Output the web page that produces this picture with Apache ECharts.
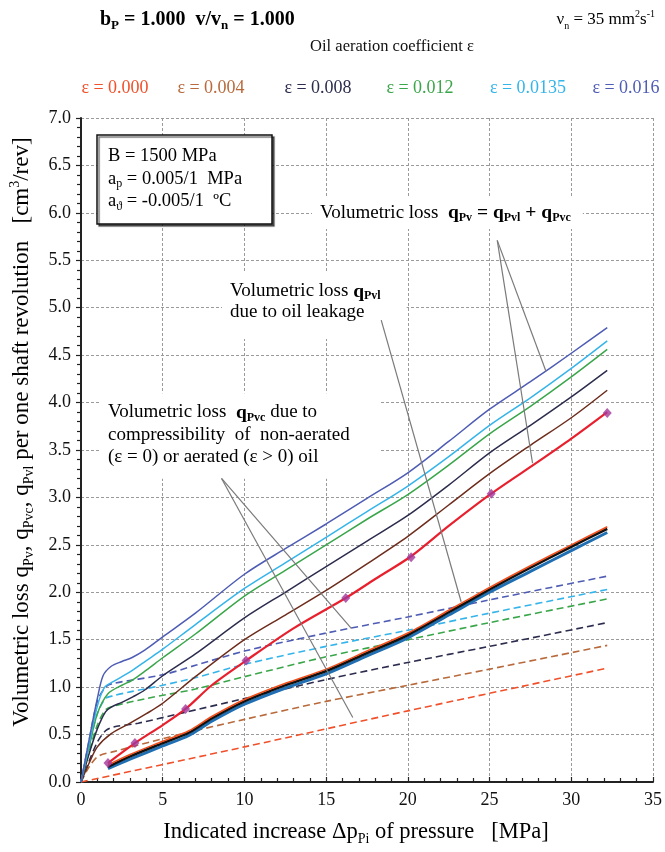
<!DOCTYPE html>
<html><head><meta charset="utf-8">
<script src="https://cdn.jsdelivr.net/npm/echarts@6/dist/echarts.min.js"></script>
<style>html,body{margin:0;padding:0;background:#fff}#c{width:665px;height:852px}</style>
</head><body><div id="c"></div>
<script>
// ---------- data ----------
const xTickValues = [0, 5, 10, 15, 20, 25, 30, 35];
const epsLabels = ['ε = 0.000', 'ε = 0.004', 'ε = 0.008', 'ε = 0.012', 'ε = 0.0135', 'ε = 0.016'];

// total volumetric loss q_Pv (solid)
const tot016 = [[0,0],[0.5,0.45],[1,0.88],[1.35,1.12],[1.85,1.22],[2.5,1.27],[3.1,1.31],[3.9,1.39],[5,1.53],[7,1.78],[10,2.19],[12.5,2.46],[15,2.72],[17.5,2.99],[20,3.26],[22.5,3.59],[25,3.93],[27.5,4.22],[30,4.52],[32.2,4.79]];
const tot0135 = [[0,0],[0.5,0.4],[1,0.8],[1.45,1.0],[2,1.06],[3,1.16],[4,1.28],[5,1.4],[7,1.66],[10,2.04],[12.5,2.31],[15,2.58],[17.5,2.85],[20,3.12],[22.5,3.43],[25,3.76],[27.5,4.05],[30,4.36],[32.2,4.65]];
const tot012 = [[0,0],[0.5,0.37],[1,0.72],[1.65,0.93],[2.5,1.02],[3.1,1.07],[4,1.18],[5,1.31],[7,1.56],[10,1.96],[12.5,2.23],[15,2.5],[17.5,2.77],[20,3.03],[22.5,3.34],[25,3.67],[27.5,3.96],[30,4.27],[32.2,4.56]];
const tot008 = [[0,0],[0.5,0.3],[1,0.56],[1.5,0.74],[1.85,0.79],[2.5,0.84],[3.2,0.9],[3.9,0.97],[5,1.12],[7,1.35],[10,1.73],[12.5,2.0],[15,2.27],[17.5,2.54],[20,2.81],[22.5,3.13],[25,3.47],[27.5,3.76],[30,4.06],[32.2,4.34]];
const tot004 = [[0,0],[0.5,0.2],[1,0.37],[1.85,0.51],[3,0.62],[4,0.72],[5,0.83],[7,1.11],[10,1.5],[12.5,1.76],[15,2.02],[17.5,2.3],[20,2.59],[22.5,2.92],[25,3.25],[27.5,3.55],[30,3.84],[32.2,4.13]];
const tot000 = [[1.65,0.2],[3.3,0.41],[5,0.6],[6.4,0.77],[8,1.02],[10.1,1.28],[13,1.62],[16.2,1.94],[18,2.14],[20.2,2.38],[22.5,2.7],[25.1,3.04],[28,3.38],[30,3.62],[32.2,3.9]];
const diamonds000 = [[1.65,0.2],[3.3,0.41],[6.4,0.77],[10.1,1.28],[16.2,1.94],[20.2,2.37],[25.1,3.04],[32.2,3.89]];

// leakage loss q_Pvl (bundle of nearly coincident curves)
const leakTop = [[1.65,0.18],[3,0.29],[5,0.43],[6.6,0.54],[8,0.69],[10,0.87],[12.5,1.04],[15,1.19],[17.5,1.38],[20,1.57],[22.5,1.81],[25,2.05],[27.5,2.28],[30,2.5],[32.2,2.69]];
const leakMid = [[1.65,0.16],[3,0.27],[5,0.41],[6.6,0.52],[8,0.67],[10,0.85],[12.5,1.02],[15,1.17],[17.5,1.36],[20,1.55],[22.5,1.79],[25,2.03],[27.5,2.26],[30,2.48],[32.2,2.67]];
const leakLow = [[1.65,0.14],[3,0.24],[5,0.38],[6.6,0.49],[8,0.64],[10,0.82],[12.5,0.99],[15,1.14],[17.5,1.33],[20,1.52],[22.5,1.76],[25,2.0],[27.5,2.22],[30,2.44],[32.2,2.63]];

// compressibility loss q_Pvc (dashed)
const dash000 = [[0,0],[10,0.37],[20,0.75],[32.2,1.2]];
const dash004 = [[0,0],[0.5,0.16],[1.04,0.27],[2,0.32],[6,0.5],[10,0.66],[15,0.85],[20,1.02],[25,1.19],[32.2,1.44]];
const dash008 = [[0,0],[0.5,0.22],[1,0.42],[1.5,0.54],[2,0.58],[3.5,0.62],[6,0.72],[10,0.88],[15,1.08],[20,1.26],[25,1.43],[32.2,1.68]];
const dash012 = [[0,0],[0.5,0.32],[1,0.6],[1.5,0.76],[2,0.8],[4,0.88],[7,0.98],[10,1.11],[15,1.32],[20,1.5],[25,1.68],[32.2,1.93]];
const dash0135 = [[0,0],[0.5,0.38],[1,0.72],[1.5,0.88],[2,0.91],[3,0.95],[5,1.02],[7,1.1],[10,1.24],[15,1.43],[20,1.6],[25,1.78],[32.2,2.03]];
const dash016 = [[0,0],[0.5,0.44],[1,0.85],[1.5,1.0],[2,1.04],[5,1.13],[7,1.23],[10,1.38],[15,1.57],[20,1.74],[25,1.92],[32.2,2.17]];

// annotation leader lines (data coordinates)
const leaderPv1 = [[25.47,5.71],[28.45,4.33]];
const leaderPv2 = [[25.47,5.71],[27.63,3.36]];
const leaderPvl = [[18.37,4.87],[23.26,1.9]];
const leaderPvc1 = [[8.6,3.2],[16.54,1.62]];
const leaderPvc2 = [[8.6,3.2],[16.63,0.68]];

// ---------- styling ----------
const SERIF = '"Liberation Serif","DejaVu Serif",serif';
const C = {
  e000: '#f0502a', e000solid: '#e8202e', e004: '#b86a3c', e004solid: '#6e2c1c',
  e008: '#2c2c4e', e012: '#3aa64a', e0135: '#35b4ea', e016: '#4e5cb4', diamond: '#a3369a'
};
const legendColors = [C.e000, C.e004, C.e008, C.e012, C.e0135, C.e016];
const legendX = [115, 211, 318, 420, 528, 626];

function solid(data, color, w, z) {
  return {type: 'line', data, symbol: 'none', smooth: 0.3,
    lineStyle: {color, width: w}, z: z || 3, silent: true};
}
function dashed(data, color) {
  return {type: 'line', data, symbol: 'none', smooth: 0.3,
    lineStyle: {color, width: 1.6, type: [7, 4]}, z: 2, silent: true};
}
function leader(data) {
  return {type: 'line', data, symbol: 'none', lineStyle: {color: '#7a7a7a', width: 1.2}, z: 30, silent: true};
}

const series = [
  dashed(dash000, C.e000), dashed(dash004, C.e004), dashed(dash008, C.e008),
  dashed(dash012, C.e012), dashed(dash0135, C.e0135), dashed(dash016, C.e016),
  solid(leakLow, '#1f6fb2', 3, 3), solid(leakMid, '#111111', 2.6, 3), solid(leakTop, '#f0501e', 1.6, 3),
  solid(tot004, C.e004solid, 1.5), solid(tot008, C.e008, 1.5), solid(tot012, C.e012, 1.5),
  solid(tot0135, C.e0135, 1.5), solid(tot016, C.e016, 1.5),
  solid(tot000, C.e000solid, 2.2, 4),
  {type: 'scatter', data: diamonds000, symbol: 'diamond', symbolSize: [9, 10],
   itemStyle: {color: C.diamond}, z: 5, silent: true},
  leader(leaderPv1), leader(leaderPv2), leader(leaderPvl), leader(leaderPvc1), leader(leaderPvc2)
];

const sub = (fs, bold) => ({fontFamily: SERIF, fontSize: fs, fontWeight: bold ? 'bold' : 'normal', verticalAlign: 'bottom', lineHeight: fs, color: '#111'});
const sup = (fs) => ({fontFamily: SERIF, fontSize: fs, verticalAlign: 'top', lineHeight: fs, color: '#111'});
const txt = (fs, bold, lh) => ({fontFamily: SERIF, fontSize: fs, fontWeight: bold ? 'bold' : 'normal', lineHeight: lh || fs + 4, color: '#111'});

const graphics = [
  // title
  {type: 'text', x: 100, y: 20, z: 20, style: {
    text: '{b|b}{bs|P}{b| = 1.000  v/v}{bs|n}{b| = 1.000}', textVerticalAlign: 'middle',
    rich: {b: txt(20, true, 25), bs: sub(13, true)}}},
  {type: 'text', x: 655, y: 20, z: 20, style: {
    text: '{t|ν}{s|n}{t| = 35 mm}{p|2}{t|s}{p|-1}', textAlign: 'right', textVerticalAlign: 'middle',
    rich: {t: txt(17, false, 22), s: sub(10), p: sup(10)}}},
  {type: 'text', x: 392, y: 47, z: 20, style: {
    text: 'Oil aeration coefficient ε', textAlign: 'center', textVerticalAlign: 'middle',
    font: '16.5px ' + SERIF, fill: '#111'}},
  // y axis title
  {type: 'text', x: 22, y: 432, rotation: Math.PI / 2, z: 20, style: {
    text: '{t|Volumetric loss q}{s|Pv}{t|, q}{s|Pvc}{t|, q}{s|Pvl}{t| per one shaft revolution   [cm}{p|3}{t|/rev]}',
    textAlign: 'center', textVerticalAlign: 'middle',
    rich: {t: txt(23, false, 28), s: sub(14), p: sup(14)}}},
  // x axis title
  {type: 'text', x: 356, y: 832, z: 20, style: {
    text: '{t|Indicated increase Δp}{s|Pi}{t| of pressure   [MPa]}',
    textAlign: 'center', textVerticalAlign: 'middle',
    rich: {t: txt(22.5, false, 28), s: sub(14)}}},
  // parameter box
  {type: 'rect', z: 15, shape: {x: 97, y: 135, width: 175, height: 89},
   style: {fill: '#fff', stroke: '#111', lineWidth: 1.5, shadowColor: 'rgba(0,0,0,0.55)', shadowOffsetX: 2, shadowOffsetY: 2, shadowBlur: 1}},
  {type: 'text', x: 108, y: 179, z: 16, style: {
    text: '{t|B = 1500 MPa}\n{t|a}{s|p}{t| = 0.005/1  MPa}\n{t|a}{s|ϑ}{t| = -0.005/1  ºC}',
    textVerticalAlign: 'middle',
    rich: {t: txt(18.5, false, 22.5), s: sub(12)}}},
  // annotation 1
  {type: 'text', x: 312, y: 213, z: 15, style: {
    text: '{t|Volumetric loss  }{b|q}{bs|Pv}{b| = q}{bs|Pvl}{b| + q}{bs|Pvc}',
    textVerticalAlign: 'middle', backgroundColor: '#fff', padding: [5, 12, 5, 8],
    rich: {t: txt(19, false, 22), b: txt(19.5, true, 22), bs: sub(12, true)}}},
  // annotation 2
  {type: 'text', x: 222, y: 306, z: 15, style: {
    text: '{t|Volumetric loss }{b|q}{bs|Pvl}\n{t|due to oil leakage}',
    textVerticalAlign: 'middle', backgroundColor: '#fff', padding: [8, 26, 16, 8],
    rich: {t: txt(19, false, 21), b: txt(19.5, true, 21), bs: sub(12, true)}}},
  // annotation 3
  {type: 'text', x: 100, y: 436, z: 15, style: {
    text: '{t|Volumetric loss  }{b|q}{bs|Pvc}{t| due to}\n{t|compressibility  of  non-aerated}\n{t|(ε = 0) or aerated (ε > 0) oil}',
    textVerticalAlign: 'middle', backgroundColor: '#fff', padding: [8, 30, 10, 8],
    rich: {t: txt(19, false, 22.5), b: txt(19.5, true, 22.5), bs: sub(12, true)}}}
];
epsLabels.forEach((l, i) => graphics.push({type: 'text', x: legendX[i], y: 88, z: 20,
  style: {text: l, textAlign: 'center', textVerticalAlign: 'middle', font: '18px ' + SERIF, fill: legendColors[i]}}));

const chart = echarts.init(document.getElementById('c'), null, {renderer: 'canvas'});
chart.setOption({
  animation: false,
  backgroundColor: '#fff',
  grid: {left: 81, right: 11, top: 118, bottom: 70},
  xAxis: {
    type: 'value', min: 0, max: 35, interval: 5,
    axisLine: {onZero: false, lineStyle: {color: '#222', width: 2}},
    axisTick: {inside: true, length: 5, lineStyle: {color: '#222', width: 1.2}},
    minorTick: {show: true, splitNumber: 5, length: 4, lineStyle: {color: '#222', width: 1.2}},
    axisLabel: {fontFamily: SERIF, fontSize: 18, color: '#111', margin: 9,
      customValues: xTickValues, formatter: v => String(v)},
    splitLine: {show: true, lineStyle: {color: '#9a9a9a', type: [3, 2], width: 1}}
  },
  yAxis: {
    type: 'value', min: 0, max: 7, interval: 0.5,
    axisLine: {show: true, lineStyle: {color: '#222', width: 2}},
    axisTick: {show: true, inside: false, length: 5, lineStyle: {color: '#222', width: 1.2}},
    minorTick: {show: true, splitNumber: 5, length: 4, lineStyle: {color: '#222', width: 1.2}},
    axisLabel: {fontFamily: SERIF, fontSize: 18, color: '#111', margin: 10,
      formatter: v => v.toFixed(1)},
    splitLine: {show: true, lineStyle: {color: '#9a9a9a', type: [3, 2], width: 1}}
  },
  series,
  graphic: graphics
});
</script></body></html>
